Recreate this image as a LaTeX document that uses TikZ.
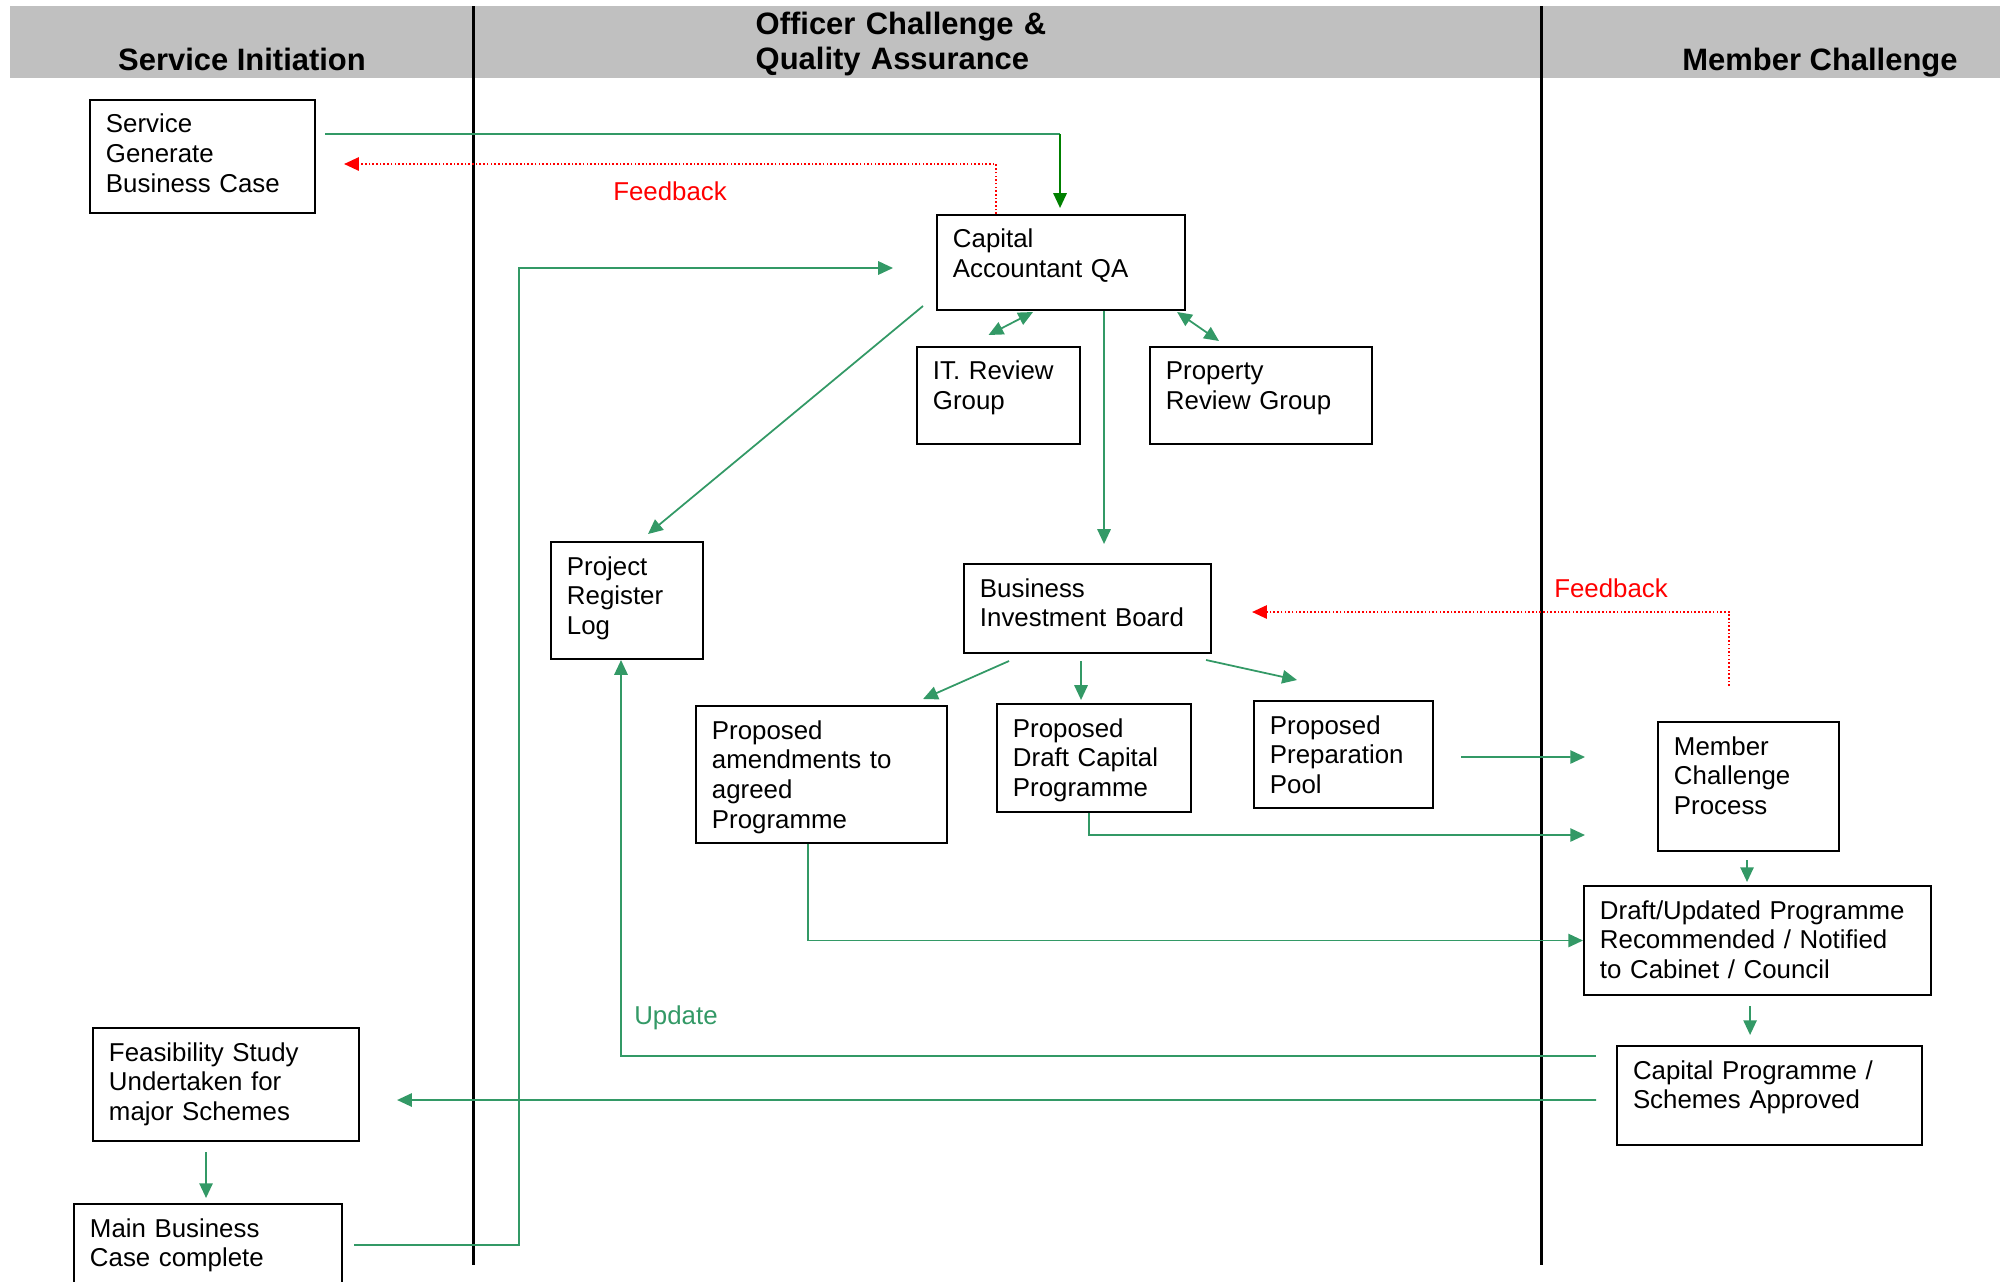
\documentclass[tikz,border=0pt]{standalone}
\usepackage{fontspec}
\setmainfont{Liberation Sans}
\usepackage{tikz}
\usetikzlibrary{arrows.meta, positioning, calc}
\definecolor{flowgreen}{HTML}{339966}
\definecolor{dkgreen}{HTML}{008000}
\definecolor{bandgray}{HTML}{C0C0C0}
\newcommand{\boxfont}{\fontsize{7.35}{8.5}\selectfont}
\newcommand{\hdrfont}{\fontsize{8.8}{10.2}\selectfont\bfseries}
\tikzset{
    box/.style = {draw=black, line width=0.55pt, anchor=north west, align=left,
        inner xsep=0.16cm, inner ysep=0.05cm, text height=0.28cm, font=\boxfont},
    hdr/.style = {inner sep=0pt, font=\hdrfont},
    lane/.style = {draw=black, line width=0.85pt},
    wire/.style = {draw=flowgreen, line width=0.5pt},
    flow/.style = {wire, ->},
    fback/.style = {->, draw=red, line width=0.45pt, dash pattern=on 0.45pt off 0.6pt},
    note/.style = {inner sep=0pt, font=\boxfont},
}

\begin{document}
\begin{tikzpicture}[x=0.01cm, y=-0.01cm, >={Triangle[length=4.2pt, width=3.8pt]}]
        \useasboundingbox (0,0) rectangle (2000,1281);
        \clip (0,0) rectangle (2000,1281);
        % swim lanes
        \fill[bandgray] (10,6) rectangle (2000,78);
        \draw[lane] (473,6) -- (473,1265);
        \draw[lane] (1541,6) -- (1541,1265);
        \node[hdr, anchor=base] (hsi) at (242,70) {Service Initiation};
        \node[hdr, anchor=base west, text width=4cm, align=left] (hoc) at (755,34) {Officer Challenge \&\\Quality Assurance};
        \node[hdr, anchor=base] (hmc) at (1820,70) {Member Challenge};

        % boxes
        \node[box, text width=1.93cm, text depth=0.75cm] (sgb) at (89,99) {Service\\Generate\\Business Case};
        \node[box, text width=2.16cm, text depth=0.57cm] (cap) at (936,214) {Capital\\Accountant QA};
        \node[box, text width=1.31cm, text depth=0.59cm] (itr) at (916,346) {IT. Review\\Group};
        \node[box, text width=1.90cm, text depth=0.59cm] (prg) at (1149,346) {Property\\Review Group};
        \node[box, text width=1.20cm, text depth=0.79cm] (prl) at (550,541) {Project\\Register\\Log};
        \node[box, text width=2.15cm, text depth=0.51cm] (bib) at (963,563) {Business\\Investment Board};
        \node[box, text width=2.19cm, text depth=0.99cm] (pam) at (695,705) {Proposed\\amendments to\\agreed\\Programme};
        \node[box, text width=1.62cm, text depth=0.70cm] (pdc) at (996,703) {Proposed\\Draft Capital\\Programme};
        \node[box, text width=1.47cm, text depth=0.69cm] (ppp) at (1253,700) {Proposed\\Preparation\\Pool};
        \node[box, text width=1.49cm, text depth=0.91cm] (mcp) at (1657,721) {Member\\Challenge\\Process};
        \node[box, text width=3.15cm, text depth=0.71cm] (dup) at (1583,885) {Draft/Updated Programme\\Recommended / Notified\\to Cabinet / Council};
        \node[box, text width=2.73cm, text depth=0.61cm] (cpa) at (1616,1045) {Capital Programme /\\Schemes Approved};
        \node[box, text width=2.34cm, text depth=0.75cm] (fsu) at (92,1027) {Feasibility Study\\Undertaken for\\major Schemes};
        \node[box, text width=2.36cm, text depth=0.72cm] (mbc) at (73,1203) {Main Business\\Case complete};

        % connectors
        \coordinate (qaturn) at ($(cap.north)+(-1,-80)$);
        \draw[wire] ($(sgb.east |- qaturn)+(9,0)$) -- (qaturn);
        \draw[flow, draw=dkgreen, shorten >=0.06cm] (qaturn) -- (qaturn |- cap.north);
        \draw[fback] ($(cap.north west)+(60,0)$) |- ($(sgb.east)+(28,7.5)$);
        \node[note, text=red] (fb1) at (670,191) {Feedback};

        \draw[flow] ($(mbc.north east)+(11,42)$) -| ($(cap.west)+(-417,5.5)$) -- ($(cap.west)+(-43,5.5)$);
        \draw[flow] ($(cap.south west)+(-13,-5)$) -- ($(prl.north)+(21,-7)$);
        \draw[flow, <->] ($(cap.south)+(-28,1)$) -- ($(itr.north)+(-10,-11)$);
        \draw[flow, <->] ($(cap.south east)+(-9,1)$) -- ($(prg.north west)+(70,-5)$);
        \draw[flow] ($(cap.south)+(43,0)$) -- ++(0,233);

        \draw[flow] ($(bib.south)+(-78.5,7)$) -- ($(pam.north east)+(-25,-6)$);
        \draw[flow] ($(bib.south)+(-6.5,7)$) -- ++(0,39);
        \draw[flow] ($(bib.south east)+(-6,6)$) -- ($(ppp.north west)+(44,-20)$);

        \draw[flow] ($(ppp.east)+(27,2.5)$) -- ($(mcp.west)+(-72,-29.5)$);
        \draw[flow] ($(pdc.south)+(-5,0)$) |- ($(mcp.west)+(-72,48.5)$);
        \draw[flow] ($(pam.south)+(-13.5,0)$) |- (dup.west);
        \draw[flow] ($(mcp.south)+(-1.5,8)$) -- ++(0,22);
        \draw[flow] ($(dup.south)+(-7.5,10)$) -- ++(0,29);
        \draw[fback] ($(mcp.north)+(-19.5,-35)$) |- ($(bib.east)+(40,3.5)$);
        \node[note, text=red] (fb2) at (1611,588) {Feedback};

        \draw[flow] ($(cpa.west)+(-20,-39.5)$) -| ($(prl.south)+(-6,0)$);
        \node[note, text=flowgreen] (upd) at (676,1018) {Update};
        \draw[flow] ($(cpa.west)+(-20,4.5)$) -- ($(fsu.east)+(37,15.5)$);
        \draw[flow] ($(fsu.south)+(-20,10)$) -- ++(0,46);
\end{tikzpicture}
\end{document}
